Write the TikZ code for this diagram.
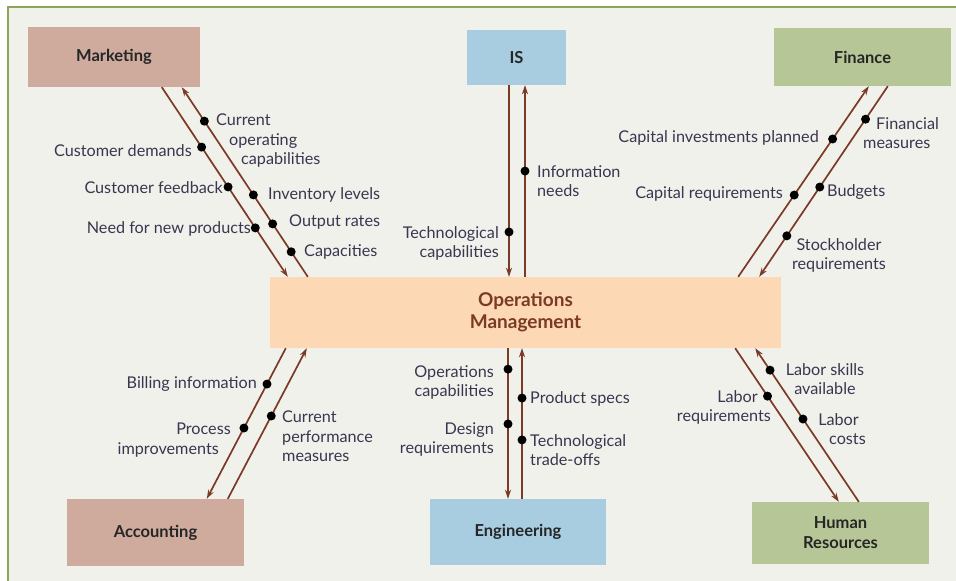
\documentclass[tikz,border=0pt]{standalone}
\usepackage{fontspec}
\setmainfont{Lato}
\usetikzlibrary{arrows.meta}
\definecolor{bgc}{HTML}{F1F1EB}
\definecolor{frame}{HTML}{8EA456}
\definecolor{mktc}{HTML}{CFAB9D}
\definecolor{isc}{HTML}{A8CCE0}
\definecolor{finc}{HTML}{B7C696}
\definecolor{opsc}{HTML}{FDD8B4}
\definecolor{arr}{HTML}{7B3A25}
\definecolor{txt}{HTML}{3B3550}
\tikzset{
  box/.style={draw=none,inner sep=0pt,font=\fontsize{16.5}{20}\selectfont\bfseries,text=black!85,align=center},
  flow/.style={draw=arr,line width=1.7pt,-{Stealth[length=9pt,width=6pt]}},
  dot/.style={circle,fill=black,inner sep=0pt,minimum size=9pt},
  lbl/.style={inner sep=0pt,text=txt,font=\fontsize{16.2}{19.5}\selectfont},
  mlbl/.style={lbl,yshift=-2pt}
}
\begin{document}
\begin{tikzpicture}[x=1pt,y=-1pt]
\path[use as bounding box] (0,0) rectangle (956,581);
\fill[white] (0,0) rectangle (956,581);
\fill[bgc] (8,7) rectangle (956,581);
\draw[frame,line width=1.5pt] (8,581) -- (8,7) -- (956,7);

% boxes
\node[box,fill=mktc,minimum width=172pt,minimum height=60pt] (mkt) at (114,57) {Marketing};
\node[box,fill=isc,minimum width=99pt,minimum height=55pt] (is) at (516.5,57.5) {IS};
\node[box,fill=finc,minimum width=177pt,minimum height=58pt] (fin) at (862.5,57) {Finance};
\node[box,fill=opsc,minimum width=511pt,minimum height=71pt,text=arr,font=\fontsize{19}{22}\selectfont\bfseries] (ops) at (525.5,312.5) {Operations\\Management};
\node[box,fill=mktc,minimum width=177pt,minimum height=67pt] (acc) at (155.5,532.5) {Accounting};
\node[box,fill=isc,minimum width=176pt,minimum height=66pt] (eng) at (518,532) {Engineering};
\node[box,fill=finc,minimum width=177pt,minimum height=62pt] (hr) at (840.5,533) {Human\\Resources};

% Marketing
\draw[flow] ([xshift=134pt]mkt.south west) --
  node[dot,pos=.316] {}
  node[dot,pos=.526] {}
  node[dot,pos=.742] {}
  ([xshift=18pt]ops.north west);
\draw[flow] ([xshift=38pt]ops.north west) --
  node[dot,pos=.821] {}
  node[dot,pos=.432] {}
  node[dot,pos=.279] {}
  node[dot,pos=.132] {}
  ([xshift=154pt]mkt.south west);
\node[lbl,anchor=east] (l1) at (192,151) {Customer demands};
\node[lbl,anchor=east] (l2) at (223,188) {Customer feedback};
\node[lbl,anchor=east] (l3) at (251,229) {Need for new products};
\node[mlbl,anchor=north west,align=left] (l4) at (216,112) {Current\\\hspace*{13pt}operating\\\hspace*{25pt}capabilities};
\node[lbl,anchor=west] (l5) at (268,195) {Inventory levels};
\node[lbl,anchor=west] (l6) at (289,222) {Output rates};
\node[lbl,anchor=west] (l7) at (304,252) {Capacities};

% IS
\draw[flow] ([xshift=-7.5pt]is.south) --
  node[dot,pos=.766] {}
  ([xshift=-7.5pt]is.south |- ops.north);
\draw[flow] ([xshift=8.5pt]is.south |- ops.north) --
  node[dot,pos=.552] {}
  ([xshift=8.5pt]is.south);
\node[mlbl,anchor=north west,align=left] (l8) at (537,163) {Information\\needs};
\node[mlbl,anchor=north east,align=right] (l9) at (499,224) {Technological\\capabilities};

% Finance
\draw[flow] ([xshift=-43pt]ops.north east) --
  node[dot,pos=.723] {}
  node[dot,pos=.429] {}
  ([xshift=95pt]fin.south west);
\draw[flow] ([xshift=114pt]fin.south west) --
  node[dot,pos=.173] {}
  node[dot,pos=.529] {}
  node[dot,pos=.785] {}
  ([xshift=-22pt]ops.north east);
\node[lbl,anchor=east] (l10) at (819,138) {Capital investments planned};
\node[lbl,anchor=east] (l11) at (783,194) {Capital requirements};
\node[mlbl,anchor=north west,align=left] (l12) at (863,115) {\hspace*{13pt}Financial\\measures};
\node[lbl,anchor=west] (l13) at (827,192) {Budgets};
\node[mlbl,anchor=north,align=center] (l14) at (839,236) {Stockholder\\requirements};

% Accounting
\draw[flow] ([xshift=16pt]ops.south west) --
  node[dot,pos=.238] {}
  node[dot,pos=.530] {}
  ([xshift=140pt]acc.north west);
\draw[flow] ([xshift=161pt]acc.north west) --
  node[dot,pos=.550] {}
  ([xshift=37pt]ops.south west);
\node[lbl,anchor=east] (l15) at (257,384) {Billing information};
\node[mlbl,anchor=north east,align=right] (l16) at (231,421) {Process\\improvements\hspace*{12pt}};
\node[mlbl,anchor=north west,align=left] (l17) at (282,409) {Current\\performance\\measures};

% Engineering
\draw[flow] ([xshift=-10pt]eng.north |- ops.south) --
  node[dot,pos=.139] {}
  node[dot,pos=.503] {}
  ([xshift=-10pt]eng.north);
\draw[flow] ([xshift=4pt]eng.north) --
  node[dot,pos=.669] {}
  node[dot,pos=.391] {}
  ([xshift=4pt]eng.north |- ops.south);
\node[mlbl,anchor=north east,align=right] (l18) at (494,363) {Operations\\capabilities};
\node[mlbl,anchor=north east,align=right] (l19) at (494,420) {Design\\requirements};
\node[lbl,anchor=west] (l20) at (530,399) {Product specs};
\node[mlbl,anchor=north west,align=left] (l21) at (530,432) {Technological\\trade-offs};

% Human resources
\draw[flow] ([xshift=-46pt]ops.south east) --
  node[dot,pos=.312] {}
  ([xshift=87pt]hr.north west);
\draw[flow] ([xshift=107pt]hr.north west) --
  node[dot,pos=.857] {}
  node[dot,pos=.539] {}
  ([xshift=-26pt]ops.south east);
\node[mlbl,anchor=north,align=center] (l22) at (825,361) {Labor skills\\available};
\node[mlbl,anchor=north east,align=right] (l23) at (771,388) {Labor\hspace*{13pt}\\requirements};
\node[mlbl,anchor=north east,align=right] (l24) at (866,411) {Labor\hspace*{7pt}\\costs};
\end{tikzpicture}
\end{document}
